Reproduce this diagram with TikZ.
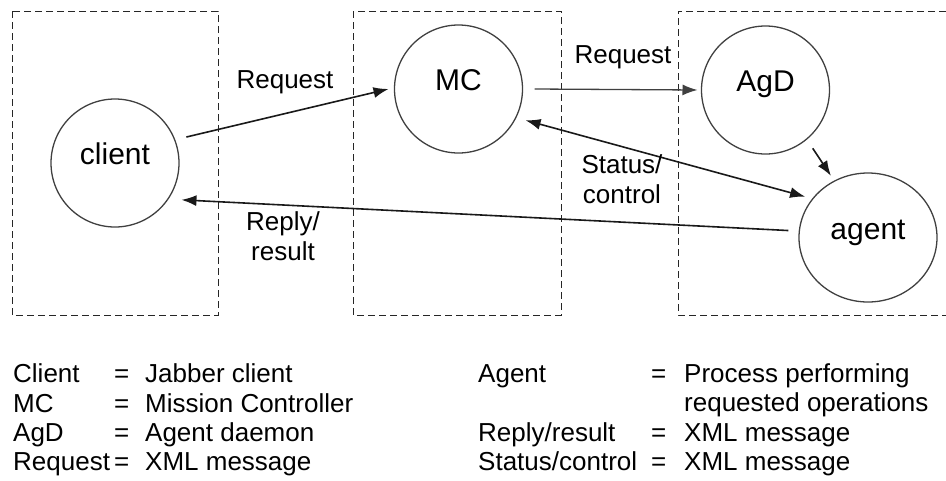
\documentclass[tikz,border=0pt]{standalone}
\usepackage{fontspec}
\setmainfont{Liberation Sans}
\usetikzlibrary{arrows.meta,shapes.geometric,calc}

\tikzset{
  zone/.style={draw=black!85, line width=1pt, dash pattern=on 7pt off 4pt},
  proc/.style={circle, draw=black!75, line width=1.3pt, minimum size=128pt, inner sep=0pt,
    font=\fontsize{30}{36}\selectfont, text height=0.75em, text depth=0.4em},
  tip/.style={Latex[length=15pt,width=11pt]},
  msg/.style={-{Latex[length=15pt,width=11pt]}, line width=1.6pt, draw=black!90},
  msgboth/.style={{Latex[length=15pt,width=11pt]}-{Latex[length=15pt,width=11pt]}, line width=1.6pt, draw=black!90},
  elabel/.style={font=\fontsize{26}{30}\selectfont, align=center, anchor=base, inner sep=0pt},
  legend/.style={font=\fontsize{26}{30}\selectfont, anchor=base west, inner sep=0pt},
}

\begin{document}
\begin{tikzpicture}[x=1pt,y=-1pt]
\useasboundingbox (0,0) rectangle (946,480);

% dashed zones (the right one runs off the edge)
\draw[zone] (12,11) rectangle (218,315);
\draw[zone] (353,11) rectangle (561,315);
\draw[zone] (946,11) -- (678,11) -- (678,315) -- (946,315);

% processes
\node[proc] (client) at (115,163) {client};
\node[proc] (mc) at (458.5,89) {MC};
\node[proc] (agd) at (765.5,90) {AgD};
\node[proc, ellipse, minimum width=138pt, minimum height=129pt] (agent) at (868,237.5) {agent};

% messages
\draw[msg] ($(client)+(20:76pt)$) -- ($(mc)+(180:70pt)$);
\draw[msg, draw=black!75, line width=1.3pt] ($(mc)+(0:76pt)$) -- ($(agd)+(180:68pt)$);
\draw[msgboth] ($(mc)+(-25:74pt)$) -- ($(agent)+(147:75pt)$);
\draw[msg] ($(agd)+(-51:75pt)$) -- ($(agent)+(121:72pt)$);
\draw[msg] ($(agent)+(175:80pt)$) -- ($(client)+(-29:76pt)$);

% message labels (base = baseline of the last line)
\node[elabel] (lreq1) at (285,88) {Request};
\node[elabel] (lreq2) at (623,63) {Request};
\node[elabel] (lstat) at (622,203) {Status/\\control};
\node[elabel] (lrep) at (283,260) {Reply/\\result};

% key
\node[legend] (k1) at (13,382) {Client};
\node[legend] (k2) at (13,412) {MC};
\node[legend] (k3) at (13,441) {AgD};
\node[legend] (k4) at (13,470) {Request};
\foreach \y in {382,412,441,470} \node[legend] at (114,\y) {=};
\node[legend] (d1) at (145,382) {Jabber client};
\node[legend] (d2) at (145,412) {Mission Controller};
\node[legend] (d3) at (145,441) {Agent daemon};
\node[legend] (d4) at (145,470) {XML message};

\node[legend] (k5) at (478,382) {Agent};
\node[legend] (k6) at (478,441) {Reply/result};
\node[legend] (k7) at (478,470) {Status/control};
\foreach \y in {382,441,470} \node[legend] at (651,\y) {=};
\node[legend] (d5) at (684,382) {Process performing};
\node[legend] (d6) at (684,411) {requested operations};
\node[legend] (d7) at (684,441) {XML message};
\node[legend] (d8) at (684,470) {XML message};
\end{tikzpicture}
\end{document}
